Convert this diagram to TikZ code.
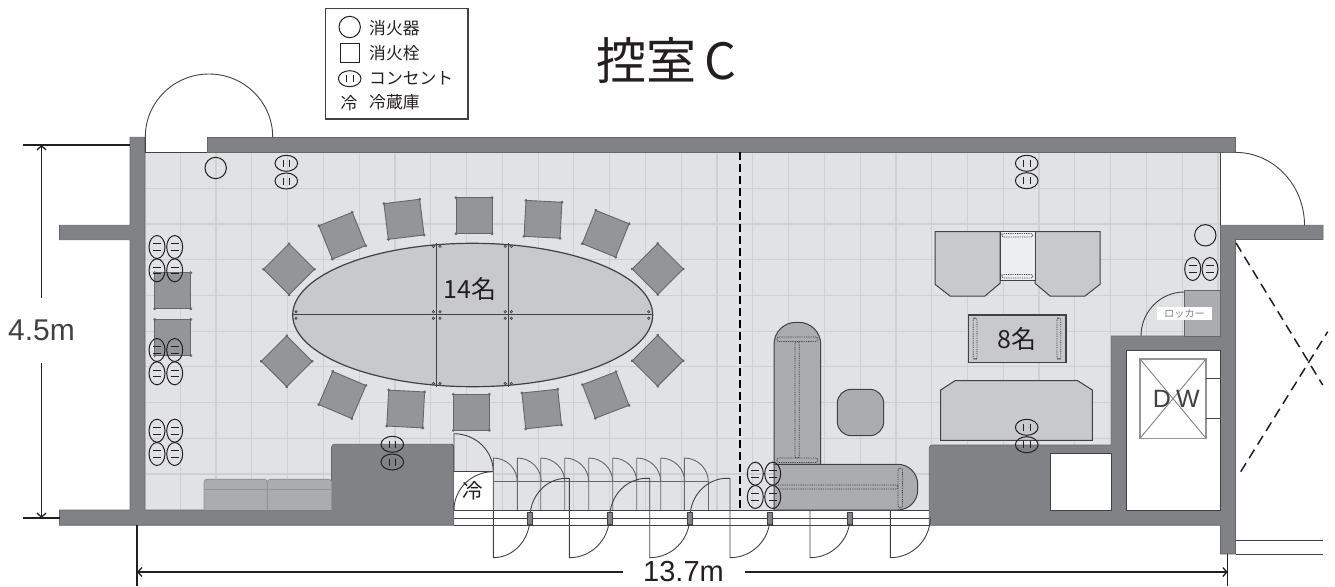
\documentclass[tikz,border=0pt]{standalone}
\usepackage{fontspec}
\setmainfont{Noto Sans CJK JP}
\newfontfamily\latinfont{Liberation Sans}
\usetikzlibrary{arrows.meta}
\definecolor{wallgray}{RGB}{128,130,133}
\definecolor{floorgray}{RGB}{225,226,228}
\definecolor{gridgray}{RGB}{207,208,210}
\definecolor{tablegray}{RGB}{200,201,203}
\definecolor{chairgray}{RGB}{147,149,152}
\definecolor{sofagray}{RGB}{170,172,175}
\definecolor{inkgray}{RGB}{65,64,66}
\definecolor{inkblack}{RGB}{35,31,32}
\tikzstyle{wall} = [fill=wallgray, draw=inkgray!80, line width=0.7pt]
\tikzstyle{thinline} = [draw=inkgray, line width=0.9pt]
\tikzstyle{chair} = [fill=chairgray, draw=inkgray!80, line width=0.9pt]
\tikzstyle{sofa} = [fill=sofagray, draw=inkgray, line width=1pt]
\tikzstyle{seat} = [fill=tablegray, draw=inkgray, line width=1pt]
\tikzstyle{bar} = [draw=inkgray, line width=0.8pt, dash pattern=on 0.9pt off 0.9pt, rounded corners=2pt]
\tikzstyle{outlet} = [draw=inkblack, line width=1pt]
\tikzstyle{dimline} = [draw=inkblack, line width=1.3pt]
\tikzstyle{arrow} = [dimline, -{Straight Barb[length=4pt,width=9pt]}]
\tikzstyle{legendtext} = [anchor=west, inner sep=0pt, text=inkblack, font=\fontsize{16.8}{18}\selectfont]
\newcommand{\chairat}[3]{%
  \begin{scope}[shift={(#1,#2)},rotate=#3]
    \draw[chair] (-18,-18) rectangle (18,18);
    \foreach \cx/\cy in {-18/-18,18/-18,18/18,-18/18}
      \fill[inkgray!80] (\cx,\cy) circle (1.6);
  \end{scope}}
\newcommand{\outleth}[2]{%
  \draw[outlet] (#1,#2) ellipse [x radius=11.3,y radius=8];
  \draw[outlet] (#1-3.3,#2-3.5) -- (#1-3.3,#2+3.5) (#1+3.3,#2-3.5) -- (#1+3.3,#2+3.5);}
\newcommand{\outletv}[2]{%
  \draw[outlet] (#1,#2) ellipse [x radius=8,y radius=11.5];
  \draw[outlet] (#1-4,#2-3.3) -- (#1+4,#2-3.3) (#1-4,#2+3.3) -- (#1+4,#2+3.3);}

\begin{document}
\begin{tikzpicture}[x=1pt,y=-1pt]
\useasboundingbox (0,0) rectangle (1335,586);

% Floor and grid
\fill[floorgray] (145,152) rectangle (1220.5,510);
\foreach \k in {0,...,29}
  \draw[gridgray, line width=1.2pt] ({180.3+35.78*\k},152) -- ({180.3+35.78*\k},510);
\foreach \k in {0,...,8}
  \draw[gridgray, line width=1.2pt] (145,{188.3+35.7*\k}) -- (1220.5,{188.3+35.7*\k});

% Fridge corner and door track
\fill[white] (453.5,471.7) rectangle (493.3,510);
\fill[white] (453.5,510) rectangle (929.3,525.3);
\draw[thinline] (453.5,510) -- (929.3,510) (453.5,518) -- (929.3,518) (453.5,525.3) -- (929.3,525.3);

% Walls
\draw[wall] (130,137.3) -- (145,137.3) -- (145,510) -- (331.5,510) -- (331.5,447) [rounded corners=3pt] -- (331.5,444.3) -- (450,444.3) -- (453.5,444.3) -- (453.5,448) [sharp corners] -- (453.5,525.3) -- (59.5,525.3) -- (59.5,510) -- (130,510) -- (130,239.7) -- (59.5,239.7) -- (59.5,225.3) -- (130,225.3) -- cycle;
\draw[wall] (207,137.3) rectangle (1235.5,152);
\draw[wall] (1220.5,225.3) -- (1323,225.3) -- (1323,239.5) -- (1235.5,239.5) -- (1235.5,554) -- (1220.5,554) -- (1220.5,525.3) -- (929.3,525.3) -- (929.3,448) [rounded corners=3pt] -- (929.3,445) -- (1000,445) [sharp corners] -- (1111.3,445) -- (1111.3,336) -- (1220.5,336) -- cycle;
\draw[thinline, fill=white] (1126.7,350.3) rectangle (1220.5,510);
\draw[thinline, fill=white] (1050.3,453.7) rectangle (1111.3,510);
\draw[thinline] (145,152) -- (207,152) (1220.7,152) -- (1220.7,225.3);

% Swing doors in the walls
\draw[thinline] (145.3,152) -- (145.3,137) arc [start angle=180,end angle=360,x radius=63.7,y radius=63];
\draw[thinline] (1235.5,152.4) arc [start angle=-90,end angle=0,x radius=69,y radius=72.9];
\draw[inkblack, line width=1.5pt, dash pattern=on 10pt off 6pt] (1236,243) -- (1322.7,385);
\draw[inkblack, line width=1.5pt, dash pattern=on 10pt off 6pt] (1240.7,471.7) -- (1327.7,331.7);
\draw[thinline] (1235.5,540.3) -- (1323,540.3) (1235.5,554) -- (1323,554);

% Locker
\draw[wall, fill=sofagray] (1184.3,290) rectangle (1220.5,336);
\draw[thinline] (1184.3,292) arc [start angle=-90,end angle=-180,x radius=43.3,y radius=44];
\fill[white] (1157.3,306.7) rectangle (1211.7,320.3);
\node (locker) at (1184.5,313.5) [inner sep=0pt, text=wallgray, font=\fontsize{10.2}{11}\selectfont] {ロッカー};

% DW
\draw[draw=chairgray, line width=1.2pt] (1140,359) rectangle (1206,438.3);
\draw[draw=wallgray, line width=0.9pt] (1140,359) -- (1206,438.3) (1206,359) -- (1140,438.3);
\draw[thinline] (1206,378.3) -- (1220.5,378.3) (1206,418.3) -- (1220.5,418.3);
\node (dwd) at (1162,398.5) [inner sep=0pt, text=inkgray, font=\latinfont\fontsize{25}{26}\selectfont] {D};
\node (dww) at (1188,398.5) [inner sep=0pt, text=inkgray, font=\latinfont\fontsize{25}{26}\selectfont] {W};

% Table with chairs
\draw[seat, line width=1.2pt] (472.7,315) ellipse [x radius=180,y radius=71.7];
\draw[thinline] (436.7,243.3) -- (436.7,386.7) (508.3,243.3) -- (508.3,386.7) (292.7,314.6) -- (652.7,314.6);
\foreach \tx in {433.4,440,505.2,511.3}
  \foreach \ty in {246.3,311.7,318.3,383.5}
    \draw[inkgray, line width=0.5pt, fill=chairgray] (\tx,\ty) circle (1.3);
\foreach \tx in {296,648.7}
  \foreach \ty in {311.7,318.3}
    \draw[inkgray, line width=0.5pt, fill=chairgray] (\tx,\ty) circle (1.3);
\chairat{289}{269.3}{45}
\chairat{342.3}{235.7}{22}
\chairat{404}{219.3}{7}
\chairat{474}{215.7}{0}
\chairat{543}{219.3}{-3}
\chairat{605.7}{233.7}{-22}
\chairat{657.7}{269}{45}
\chairat{286.7}{361.3}{45}
\chairat{342.3}{395}{-23}
\chairat{405.7}{409}{-3}
\chairat{471.3}{412.3}{0}
\chairat{541.7}{409}{6}
\chairat{605.7}{395}{21}
\chairat{657.7}{360.7}{45}
\chairat{172.7}{290.7}{0}
\chairat{172.7}{337.5}{0}
\node (people14) at (470,289.3) [inner sep=0pt, text=inkblack, font=\fontsize{25}{26}\selectfont] {14名};

% Sofa by the left wall
\draw[draw=chairgray, fill=sofagray, line width=0.9pt, rounded corners=3pt] (204,510) -- (204,479.3) -- (267.3,479.3) -- (267.3,510);
\draw[draw=chairgray, fill=sofagray, line width=0.9pt, rounded corners=3pt] (267.3,510) -- (267.3,479.3) -- (331.5,479.3) -- (331.5,510);
\draw[draw=chairgray, line width=0.9pt] (204,489) -- (331.5,489);

% Fridge and its doors
\draw[thinline] (454,510) arc [start angle=180,end angle=270,x radius=39.3,y radius=38.3];
\draw[thinline] (453.7,471.7) -- (493.3,471.7);
\draw[thinline] (454,471.7) -- (454,433.7) arc [start angle=-90,end angle=0,x radius=39.3,y radius=38];
\node (fridge) at (472.7,491) [inner sep=0pt, text=inkblack, font=\fontsize{20.5}{21}\selectfont] {冷};

% Folding doors
\foreach \fx in {493.3,517.3,540.7,564.7,588.7,612.7,636.7,660.7,684.3} {
  \draw[thinline, draw=inkgray!80] (\fx,510) -- (\fx,458) arc [start angle=-90,end angle=0,x radius=24,y radius=23.7];
}
\draw[thinline, draw=inkgray!80] (493.3,481.7) -- (708.3,481.7) -- (708.3,510);

% Doors on the corridor side
\foreach \dx/\px in {569.3/530,649.7/609.7,730/690} {
  \draw[thinline] (\dx,510) -- (\dx,478.3) -- ({\dx-3},478.3) arc [start angle=-90,end angle=-180,x radius={\dx-\px-3},y radius=39.2];
}
\draw[thinline] (493.3,510) -- (493.3,557.7) arc [start angle=90,end angle=0,x radius=36.7,y radius=40.2];
\foreach \dx in {569.3,649.7,730,810,890.3} {
  \draw[thinline] (\dx,510) -- (\dx,557.7) arc [start angle=90,end angle=0,x radius=40,y radius=40.2];
}
\foreach \px in {530,609.7,690,770,850}
  \draw[draw=inkgray, fill=wallgray, line width=0.7pt] ({\px-2.7},512.3) rectangle ({\px+2.7},524);

% Room divider
\draw[black, line width=2.4pt, dash pattern=on 7.5pt off 4.5pt] (740,152) -- (740,510);

% L sofa
\draw[sofa] (774,465) [rounded corners=22pt] -- (774,322.3) -- (820.7,322.3) [sharp corners] -- (820.7,465);
\draw[sofa] (774,464.3) [rounded corners=20pt] -- (917.7,464.3) -- (917.7,510) [sharp corners] -- (774,510) -- cycle;
\draw[bar] (777,337) rectangle (817.7,341.5);
\draw[bar] (777,458) rectangle (817.7,462.5);
\draw[bar] (795,341.5) rectangle (799.3,458);
\draw[bar] (778,485) -- (898,485) -- (898,489) -- (778,489);
\draw[bar] (898,468) rectangle (902.5,508);
\draw[sofa] (837.3,389.3) [rounded corners=14pt] -- (883.7,389.3) -- (883.7,435.7) -- (837.3,435.7) -- cycle;

% Right sofas with table
\draw[seat] (935,231.7) -- (1000,231.7) -- (1000,283.3) -- (985,296) -- (950,296) -- (935,284.3) -- cycle;
\draw[seat] (1035,231.7) -- (1100,231.7) -- (1100,284.3) -- (1085,296) -- (1050,296) -- (1035,283.3) -- cycle;
\draw[draw=inkgray, fill=floorgray!60!white, line width=1pt] (1000,231.7) rectangle (1035,280.3);
\draw[bar] (1002,233.5) rectangle (1033,237);
\draw[bar] (1002,274.5) rectangle (1033,278);
\draw[draw=inkgray, fill=tablegray, line width=1.6pt] (968.3,314.7) rectangle (1065.7,362.3);
\draw[bar] (973.3,318) rectangle (977,359);
\draw[bar] (1057,318) rectangle (1060.7,359);
\node (people8) at (1017,339) [inner sep=0pt, text=inkblack, font=\fontsize{25}{26}\selectfont] {8名};
\draw[seat] (940.7,390) -- (955,380.7) -- (1077.7,380.7) -- (1092.3,390) -- (1092.3,440.3) -- (940.7,440.3) -- cycle;

% Extinguishers
\draw[outlet] (215.7,168) circle (10.7);
\draw[outlet] (1205.3,235.3) circle (10.7);

% Outlets
\foreach \ox/\oy in {286.3/163.3,286.3/181,1026.7/163.3,1026.7/180.7,392.3/444.3,392.3/462,1026.7/427.3,1026.7/444.7} {
  \outleth{\ox}{\oy}
}
\foreach \ox in {157,174.7} {
  \foreach \oy in {247,270.3,350,373.3,430.7,454} {
    \outletv{\ox}{\oy}
  }
}
\foreach \ox in {755.3,772.7} {
  \foreach \oy in {473.7,497} {
    \outletv{\ox}{\oy}
  }
}
\outletv{1192.7}{269}
\outletv{1210}{269}

% Title
\node (title) at (666.5,60) [inner sep=0pt, text=inkblack, font=\fontsize{50}{51}\selectfont] {控室\,C};

% Legend
\draw[inkgray, line width=1.2pt] (325.7,8.7) rectangle (468,119);
\draw[outlet] (349.7,27) circle (10.7);
\draw[outlet] (340.5,43.3) rectangle (359,62.3);
\outleth{349.7}{78.7}
\node (legendcold) at (349,103) [inner sep=0pt, text=inkblack, font=\fontsize{16.8}{18}\selectfont] {冷};
\node (legendext) at (369,28.5) [legendtext] {消火器};
\node (legendhyd) at (369,53) [legendtext] {消火栓};
\node (legendout) at (369,78) [legendtext] {コンセント};
\node (legendfri) at (369,102.5) [legendtext] {冷蔵庫};

% Dimensions
\node (heightlabel) at (41.5,330.5) [inner xsep=0pt, inner ysep=0pt, minimum height=65pt, text=inkgray, font=\latinfont\fontsize{30}{31}\selectfont] {4.5m};
\node (widthlabel) at (683.5,572) [inner ysep=0pt, inner xsep=20.5pt, text=inkblack, font=\latinfont\fontsize{29}{30}\selectfont] {13.7m};
\coordinate (heighttop) at (41.5,145);
\coordinate (heightbottom) at (41.5,518);
\coordinate (widthleft) at (137,572);
\coordinate (widthright) at (1227.7,572);
\draw [arrow] (heightlabel.north) -- (heighttop);
\draw [arrow] (heightlabel.south) -- (heightbottom);
\draw [arrow] (widthlabel.west) -- (widthleft);
\draw [arrow] (widthlabel.east) -- (widthright);
\draw [dimline] (23,145) -- (130,145) (23,518) -- (59.5,518);
\draw [dimline] (137,525.3) -- (137,586) (1227.7,554) -- (1227.7,586);

\end{tikzpicture}
\end{document}
